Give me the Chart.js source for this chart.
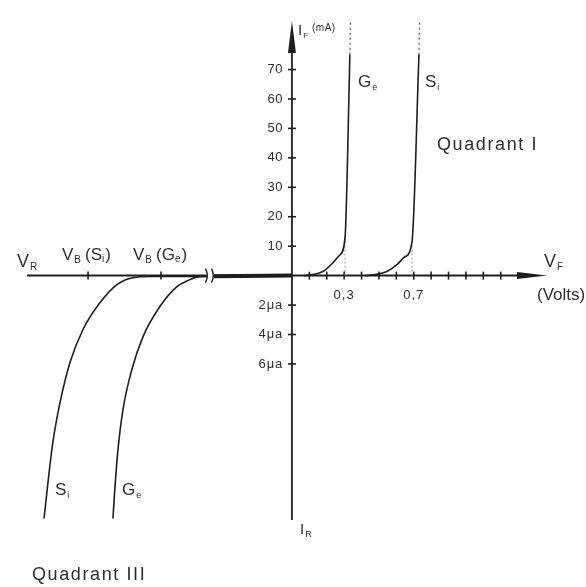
<!DOCTYPE html>
<html><head><meta charset="utf-8">
<script src="https://cdn.jsdelivr.net/npm/chart.js@4/dist/chart.umd.min.js"></script>
<style>html,body{margin:0;padding:0;background:#fff}canvas{display:block}</style>
</head><body>
<canvas id="c" width="586" height="587"></canvas>
<script>
// Forward characteristic: V_F in volts, I_F in mA
const geForwardV = [0.07, 0.115, 0.178, 0.236, 0.276, 0.305, 0.333];
const geForwardI = [0, 0.34, 1.4, 4.4, 7.1, 12.9, 75];
const siForwardV = [0.42, 0.477, 0.546, 0.603, 0.649, 0.690, 0.730];
const siForwardI = [0, 0.34, 1.4, 3.7, 6.4, 11.5, 75];
// dotted continuation of the steep part
const geExtV = [0.333, 0.337];
const geExtI = [75, 87];
const siExtV = [0.730, 0.734];
const siExtI = [75, 87];
// knee markers at 0.3 V and 0.7 V
const geKneeV = [0.305, 0.305];
const geKneeI = [0, 12.9];
const siKneeV = [0.690, 0.690];
const siKneeI = [0, 11.5];

// Reverse characteristic: position on the compressed reverse-voltage axis, I_R in µA
const siReverseV = [-0.49, -0.80, -0.914, -1.006, -1.103, -1.201, -1.276, -1.333, -1.374, -1.402, -1.425];
const siReverseI = [0.05, 0.06, 0.14, 0.61, 1.83, 3.66, 5.9, 8.61, 11.3, 14.0, 16.5];
const geReverseV = [-0.49, -0.55, -0.586, -0.661, -0.759, -0.856, -0.920, -0.971, -1.0, -1.017, -1.029];
const geReverseI = [0.05, 0.1, 0.27, 0.75, 2.1, 4.14, 6.37, 9.08, 11.8, 14.3, 16.5];
// reverse saturation current between the axis break and the origin
const satV = [-0.448, 0];
const satI = [0.05, 0];

// axis ticks
const forwardCurrentTicks = [10, 20, 30, 40, 50, 60, 70];          // mA
const reverseCurrentTicks = [2, 4, 6];                               // µA
const reverseCurrentLabels = ['2μa', '4μa', '6μa'];
const forwardVoltTicks = [0.1, 0.2, 0.3, 0.4, 0.5, 0.6, 0.7, 0.8, 0.9, 1.0, 1.1, 1.2];
const forwardVoltLabelAt = [0.3, 0.7];
const forwardVoltLabels = ['0,3', '0,7'];
const breakdownTicks = [-1.172, -0.753];   // V_B(Si), V_B(Ge)

// 2 µA of reverse current takes the same height as 10 mA forward
const UA_TO_AXIS = 5;

const pts = (xs, ys, k) => xs.map((x, i) => ({ x: x, y: ys[i] * k }));
const INK = '#1e1e1e';
const TXT = '#2e2e2e';
const FONT = '"Liberation Sans", Arial, sans-serif';

function curve(data, extra) {
  return Object.assign({
    data: data, showLine: true, pointRadius: 0, borderColor: INK,
    borderWidth: 1.6, cubicInterpolationMode: 'monotone', fill: false
  }, extra || {});
}

const datasets = [
  curve(pts(geForwardV, geForwardI, 1)),
  curve(pts(siForwardV, siForwardI, 1)),
  curve(pts(geExtV, geExtI, 1), { borderDash: [2, 3], borderColor: '#666', borderWidth: 1.4 }),
  curve(pts(siExtV, siExtI, 1), { borderDash: [2, 3], borderColor: '#666', borderWidth: 1.4 }),
  curve(pts(geKneeV, geKneeI, 1), { borderDash: [2, 2], borderColor: '#999', borderWidth: 1 }),
  curve(pts(siKneeV, siKneeI, 1), { borderDash: [2, 2], borderColor: '#999', borderWidth: 1 }),
  curve(pts(siReverseV, siReverseI, -UA_TO_AXIS)),
  curve(pts(geReverseV, geReverseI, -UA_TO_AXIS)),
  curve(pts(satV, satI, -UA_TO_AXIS), { borderWidth: 4, cubicInterpolationMode: 'default' })
];

function txt(ctx, s, x, y, size, align, spacing) {
  ctx.font = size + 'px ' + FONT;
  ctx.letterSpacing = (spacing || 0) + 'px';
  ctx.textAlign = align || 'left';
  ctx.textBaseline = 'middle';
  ctx.fillText(s, x, y);
  return ctx.measureText(s).width;
}
// symbol with a subscript, e.g. V_R
function sub(ctx, main, s, x, y, size, subSize) {
  const w = txt(ctx, main, x, y, size);
  const w2 = txt(ctx, s, x + w + 1, y + size * 0.3, subSize);
  return w + w2 + 1;
}
// e.g. V_B (S_i)
function subPair(ctx, x, y, a, aSub, b, bSub) {
  let w = sub(ctx, a, aSub, x, y, 17, 10) + 4;
  w += txt(ctx, '(' + b, x + w, y, 17);
  w += txt(ctx, bSub, x + w, y + 4, 10);
  txt(ctx, ')', x + w + 1, y, 17);
}

const axesPlugin = {
  id: 'diodeAxes',
  beforeDatasetsDraw(chart) {
    const ctx = chart.ctx, xs = chart.scales.x, ys = chart.scales.y;
    const X = v => xs.getPixelForValue(v), Y = v => ys.getPixelForValue(v);
    const x0 = X(0), y0 = Y(0);
    ctx.save();
    ctx.strokeStyle = INK; ctx.fillStyle = INK; ctx.lineWidth = 2;
    // horizontal axis with a break on the reverse side
    const brkL = X(-0.494), brkR = X(-0.448), xEnd = X(1.466);
    ctx.beginPath();
    ctx.moveTo(xs.left, y0); ctx.lineTo(brkL, y0);
    ctx.moveTo(brkR, y0); ctx.lineTo(xEnd - 28, y0);
    ctx.stroke();
    ctx.lineWidth = 1.4;
    [brkL + 1, brkR - 1].forEach(bx => {
      ctx.beginPath();
      ctx.moveTo(bx - 1.5, y0 - 7);
      ctx.quadraticCurveTo(bx + 2, y0, bx - 1.5, y0 + 7);
      ctx.stroke();
    });
    // arrow head on V_F
    ctx.beginPath();
    ctx.moveTo(xEnd, y0); ctx.lineTo(xEnd - 30, y0 - 3.5); ctx.lineTo(xEnd - 30, y0 + 3.5);
    ctx.closePath(); ctx.fill();
    // vertical axis
    const yTop = Y(86.5);
    ctx.lineWidth = 2; ctx.strokeStyle = '#333';
    ctx.beginPath(); ctx.moveTo(x0, ys.bottom); ctx.lineTo(x0, yTop + 28); ctx.stroke();
    ctx.beginPath();
    ctx.moveTo(x0, yTop); ctx.lineTo(x0 - 4, yTop + 32); ctx.lineTo(x0 + 4, yTop + 32);
    ctx.closePath(); ctx.fill();
    // tick marks crossing the axes
    ctx.lineWidth = 1.6; ctx.strokeStyle = INK;
    forwardCurrentTicks.forEach(v => {
      ctx.beginPath(); ctx.moveTo(x0 - 4, Y(v)); ctx.lineTo(x0 + 4, Y(v)); ctx.stroke();
    });
    reverseCurrentTicks.forEach(v => {
      const py = Y(-v * UA_TO_AXIS);
      ctx.beginPath(); ctx.moveTo(x0 - 4, py); ctx.lineTo(x0 + 4, py); ctx.stroke();
    });
    forwardVoltTicks.concat(breakdownTicks).forEach(v => {
      ctx.beginPath(); ctx.moveTo(X(v), y0 - 4); ctx.lineTo(X(v), y0 + 4); ctx.stroke();
    });
    ctx.restore();
  },
  afterDatasetsDraw(chart) {
    const ctx = chart.ctx, xs = chart.scales.x, ys = chart.scales.y;
    const X = v => xs.getPixelForValue(v), Y = v => ys.getPixelForValue(v);
    const x0 = X(0), y0 = Y(0);
    ctx.save();
    ctx.fillStyle = TXT;
    forwardCurrentTicks.forEach(v => txt(ctx, String(v), x0 - 9, Y(v), 13, 'right', 0.5));
    reverseCurrentTicks.forEach((v, i) => txt(ctx, reverseCurrentLabels[i], x0 - 9, Y(-v * UA_TO_AXIS), 13, 'right', 0.8));
    forwardVoltLabelAt.forEach((v, i) => txt(ctx, forwardVoltLabels[i], X(v), y0 + 20, 13, 'center', 1));
    // axis names
    let w = sub(ctx, 'I', 'F', x0 + 6, Y(83), 15, 8);
    txt(ctx, '(mA)', x0 + 6 + w + 4, Y(84), 10, 'left', 0.5);
    sub(ctx, 'I', 'R', x0 + 8, Y(-86.5), 15, 9);
    sub(ctx, 'V', 'R', 17, y0 - 14, 18, 10);
    sub(ctx, 'V', 'F', 544, y0 - 14, 18, 10);
    txt(ctx, '(Volts)', 537, y0 + 20, 17);
    subPair(ctx, 62, y0 - 20, 'V', 'B', 'S', 'i');
    subPair(ctx, 133, y0 - 20, 'V', 'B', 'G', 'e');
    // curve names
    sub(ctx, 'G', 'e', 358, Y(65.5), 17, 9);
    sub(ctx, 'S', 'i', 425, Y(65.5), 17, 9);
    sub(ctx, 'S', 'i', 55, Y(-73), 17, 9);
    sub(ctx, 'G', 'e', 122, Y(-73), 17, 9);
    // quadrant captions
    txt(ctx, 'Quadrant I', 437, Y(44.5), 18, 'left', 1.6);
    txt(ctx, 'Quadrant III', 32, 575, 18, 'left', 1.6);
    ctx.restore();
  }
};

new Chart(document.getElementById('c'), {
  type: 'scatter',
  data: { datasets: datasets },
  options: {
    responsive: false,
    animation: false,
    layout: { padding: { left: 27, right: 39, top: 18, bottom: 67 } },
    plugins: { legend: { display: false }, tooltip: { enabled: false } },
    scales: {
      x: { type: 'linear', min: -1.523, max: 1.466, display: false },
      y: { type: 'linear', min: -83, max: 87.5, display: false }
    }
  },
  plugins: [axesPlugin]
});
</script>
</body></html>
